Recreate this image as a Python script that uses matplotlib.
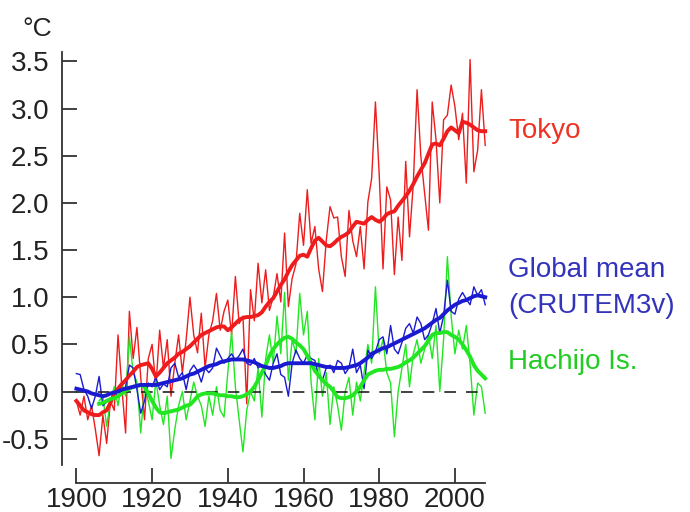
import numpy as np
import matplotlib
matplotlib.use("Agg")
import matplotlib.pyplot as plt

plt.rcParams['font.family'] = ['Liberation Sans', 'DejaVu Sans']

# annual anomalies (deg C) and their smoothed curves
years = np.arange(1900, 2009)
years_hachijo = np.arange(1906, 2009)

tokyo = [
    -0.10, -0.25, -0.05, -0.30, -0.15, -0.40, -0.68, -0.25, -0.55, -0.10,
    -0.20, 0.60, 0.05, -0.44, 0.85, 0.35, 0.68, 0.15, -0.30, 0.35,
    0.50, 0.05, 0.65, 0.25, 0.55, -0.05, 0.30, 0.60, 0.20, 0.55,
    1.00, 0.60, 0.41, 0.83, 0.25, 0.60, 0.75, 1.04, 0.65, 0.85,
    0.97, 0.60, 1.22, 0.72, 0.80, -0.13, 1.08, 0.75, 1.36, 0.94,
    1.29, 0.86, 1.00, 1.25, 0.95, 1.68, 0.90, 1.20, 1.35, 1.89,
    1.55, 2.14, 1.57, 1.75, 1.30, 1.06, 1.60, 1.96, 1.84, 1.85,
    1.43, 1.22, 1.92, 1.60, 1.43, 1.75, 1.30, 2.01, 2.26, 3.07,
    2.30, 1.30, 2.17, 2.03, 1.24, 1.85, 1.39, 2.44, 1.64, 2.20,
    3.20, 2.49, 2.10, 1.71, 3.07, 2.67, 2.00, 2.88, 2.93, 3.25,
    3.02, 2.67, 2.95, 2.21, 3.52, 2.33, 2.56, 3.20, 2.61,
]
tokyo_smooth = [
    -0.10, -0.15, -0.20, -0.22, -0.24, -0.25, -0.25, -0.22, -0.20, -0.12,
    -0.02, 0.03, 0.08, 0.12, 0.17, 0.21, 0.26, 0.28, 0.29, 0.30,
    0.24, 0.16, 0.20, 0.25, 0.30, 0.33, 0.36, 0.40, 0.42, 0.45,
    0.48, 0.52, 0.56, 0.60, 0.62, 0.64, 0.66, 0.68, 0.69, 0.69,
    0.65, 0.68, 0.72, 0.76, 0.78, 0.79, 0.79, 0.80, 0.81, 0.84,
    0.90, 0.95, 0.99, 1.06, 1.13, 1.19, 1.27, 1.34, 1.39, 1.44,
    1.45, 1.43, 1.52, 1.60, 1.63, 1.59, 1.55, 1.54, 1.57, 1.61,
    1.64, 1.66, 1.69, 1.75, 1.80, 1.79, 1.78, 1.82, 1.85, 1.82,
    1.80, 1.83, 1.88, 1.90, 1.91, 1.97, 2.02, 2.07, 2.13, 2.20,
    2.28, 2.35, 2.42, 2.52, 2.62, 2.63, 2.61, 2.68, 2.76, 2.80,
    2.77, 2.74, 2.86, 2.85, 2.83, 2.80, 2.77, 2.76, 2.76,
]
global_mean = [
    0.19, 0.18, 0.02, -0.05, -0.18, -0.05, 0.16, -0.15, -0.11, -0.08,
    -0.02, -0.05, 0.00, 0.05, 0.28, 0.25, 0.02, -0.23, -0.10, 0.09,
    0.05, 0.15, 0.02, 0.08, 0.05, 0.25, 0.30, 0.15, 0.20, 0.02,
    0.22, 0.28, 0.22, 0.10, 0.25, 0.20, 0.25, 0.46, 0.38, 0.30,
    0.35, 0.40, 0.33, 0.38, 0.45, 0.30, 0.28, 0.35, 0.25, 0.28,
    0.18, 0.12, 0.30, 0.40, 0.18, 0.15, -0.05, 0.30, 0.44, 0.35,
    0.30, 0.39, 0.35, 0.33, 0.15, 0.12, 0.25, 0.28, 0.20, 0.33,
    0.30, 0.19, 0.25, 0.45, 0.20, 0.28, 0.03, 0.44, 0.35, 0.42,
    0.55, 0.58, 0.40, 0.70, 0.45, 0.40, 0.52, 0.67, 0.72, 0.62,
    0.79, 0.72, 0.55, 0.60, 0.72, 0.88, 0.62, 0.80, 1.18, 0.85,
    0.82, 0.98, 1.05, 0.98, 0.92, 1.11, 1.02, 1.08, 0.92,
]
global_smooth = [
    0.03, 0.02, 0.01, 0.00, -0.02, -0.03, -0.04, -0.05, -0.04, -0.02,
    -0.01, 0.00, 0.02, 0.03, 0.04, 0.05, 0.06, 0.07, 0.07, 0.07,
    0.07, 0.07, 0.08, 0.09, 0.10, 0.11, 0.12, 0.13, 0.14, 0.16,
    0.18, 0.19, 0.21, 0.23, 0.25, 0.27, 0.28, 0.29, 0.31, 0.32,
    0.33, 0.34, 0.34, 0.34, 0.34, 0.33, 0.32, 0.31, 0.29, 0.27,
    0.26, 0.25, 0.25, 0.26, 0.27, 0.29, 0.30, 0.30, 0.30, 0.30,
    0.30, 0.30, 0.30, 0.29, 0.28, 0.27, 0.26, 0.26, 0.25, 0.25,
    0.25, 0.25, 0.26, 0.27, 0.28, 0.30, 0.33, 0.36, 0.40, 0.42,
    0.44, 0.46, 0.47, 0.49, 0.51, 0.53, 0.55, 0.57, 0.59, 0.61,
    0.63, 0.65, 0.67, 0.70, 0.73, 0.76, 0.78, 0.82, 0.86, 0.89,
    0.92, 0.94, 0.96, 0.97, 0.99, 1.01, 1.02, 1.01, 1.00,
]
hachijo = [
    -0.10, -0.05, -0.37, -0.10,
    0.05, -0.15, 0.10, -0.05, 0.58, 0.20, 0.10, -0.44, 0.05, -0.10,
    -0.30, 0.12, -0.15, -0.35, -0.05, -0.71, -0.40, -0.15, 0.00, -0.30,
    -0.10, 0.10, -0.05, -0.15, -0.37, -0.05, -0.25, 0.05, -0.20, -0.27,
    0.20, 0.63, 0.05, -0.30, -0.64, -0.20, 0.00, -0.10, 0.25, -0.27,
    0.35, 0.60, 0.30, 0.80, 0.40, 1.05, 0.12, 0.55, 0.40, 1.04,
    0.60, 0.85, 0.10, -0.30, 0.35, -0.05, 0.20, -0.35, 0.05, -0.15,
    -0.41, 0.00, 0.15, -0.25, 0.10, -0.10, 0.20, 0.50, 0.30, 1.11,
    0.40, 0.55, 0.20, 0.09, -0.48, 0.00, 0.25, 0.50, 0.05, 0.40,
    0.55, 0.30, 0.45, 0.60, 0.35, 0.70, 0.00, 0.55, 1.43, 0.80,
    0.40, 0.65, 0.45, 0.70, 0.30, -0.25, 0.09, 0.05, -0.23,
]
hachijo_smooth = [
    -0.13, -0.12, -0.10, -0.08,
    -0.07, -0.05, -0.02, 0.01, 0.03, 0.05, 0.06, 0.07, 0.05, -0.02,
    -0.10, -0.17, -0.22, -0.23, -0.22, -0.21, -0.20, -0.19, -0.17, -0.15,
    -0.14, -0.10, -0.05, -0.03, -0.02, -0.02, -0.02, -0.03, -0.04, -0.04,
    -0.05, -0.05, -0.06, -0.06, -0.05, -0.03, 0.00, 0.05, 0.12, 0.20,
    0.28, 0.38, 0.45, 0.50, 0.54, 0.57, 0.58, 0.56, 0.52, 0.49,
    0.45, 0.38, 0.30, 0.22, 0.17, 0.12, 0.08, 0.05, 0.00, -0.06,
    -0.07, -0.07, -0.06, -0.04, 0.00, 0.05, 0.12, 0.18, 0.20, 0.22,
    0.23, 0.23, 0.24, 0.24, 0.25, 0.26, 0.28, 0.31, 0.33, 0.36,
    0.40, 0.44, 0.48, 0.54, 0.60, 0.62, 0.62, 0.63, 0.63, 0.60,
    0.58, 0.55, 0.50, 0.44, 0.37, 0.28, 0.22, 0.18, 0.14,
]

yticks = [-0.5, 0.0, 0.5, 1.0, 1.5, 2.0, 2.5, 3.0, 3.5]
ytick_labels = ['-0.5', '0.0', '0.5', '1.0', '1.5', '2.0', '2.5', '3.0', '3.5']
xticks = [1900, 1920, 1940, 1960, 1980, 2000]

red = '#ee1c1c'
blue = '#1a1ad0'
green = '#22e622'

fig = plt.figure(figsize=(6.9, 5.12), dpi=100)
ax = fig.add_axes([62 / 690, 29 / 512, (489 - 62) / 690, (460 - 29) / 512])

ax.plot(years, tokyo, color=red, lw=1.0, zorder=2)
ax.plot(years_hachijo, hachijo, color=green, lw=1.0, zorder=2)
ax.plot(years, global_mean, color=blue, lw=1.0, zorder=2)
ax.plot([1900, 2008], [0, 0], color='#222222', lw=1.2, ls=(0, (7, 6)), zorder=3)
ax.plot(years, tokyo_smooth, color=red, lw=2.8, zorder=4)
ax.plot(years_hachijo, hachijo_smooth, color=green, lw=2.8, zorder=4)
ax.plot(years, global_smooth, color=blue, lw=2.8, zorder=5)

ax.set_xlim(1896.2, 2009)
ax.set_ylim(-0.97, 3.6)

for s in ['top', 'right']:
    ax.spines[s].set_visible(False)
ax.spines['left'].set_bounds(-0.78, 3.6)
ax.spines['bottom'].set_bounds(1900, 2008)
for s in ['left', 'bottom']:
    ax.spines[s].set_linewidth(1.3)
    ax.spines[s].set_color('#333333')

ax.set_yticks(yticks)
ax.set_yticklabels(ytick_labels)
ax.set_xticks(xticks)
ax.tick_params(axis='both', direction='in', length=11, width=1.3,
               color='#333333', labelsize=20, labelcolor='#222222')
ax.tick_params(axis='y', pad=9)
ax.tick_params(axis='x', pad=3)

fig.text(37 / 690, 1 - 29 / 512, '\u00b0C', fontsize=19, color='#222222',
         ha='center', va='center')

ax.text(2014.1, 2.76, 'Tokyo', color='#ee3322', fontsize=20, va='center',
        clip_on=False)
ax.text(2014.1, 1.29, 'Global mean', color='#3333bb', fontsize=20, va='center',
        clip_on=False)
ax.text(2014.1, 0.91, '(CRUTEM3v)', color='#3333bb', fontsize=20, va='center',
        clip_on=False)
ax.text(2014.1, 0.31, 'Hachijo Is.', color='#22cc22', fontsize=20, va='center',
        clip_on=False)

fig.savefig('out.png', dpi=100)
